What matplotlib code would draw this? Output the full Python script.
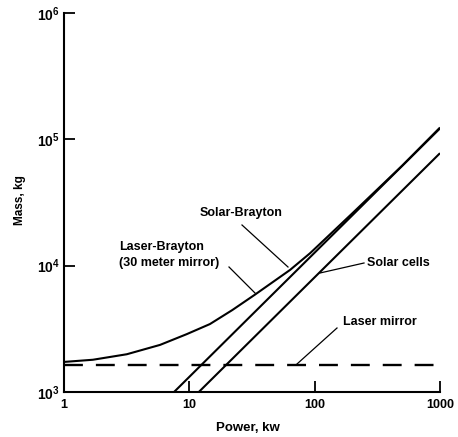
import matplotlib
matplotlib.use("Agg")
import matplotlib.pyplot as plt

plt.rcParams['font.family'] = ['Liberation Sans', 'DejaVu Sans']
plt.rcParams['font.weight'] = 'bold'
plt.rcParams['mathtext.fontset'] = 'custom'
plt.rcParams['mathtext.rm'] = 'Liberation Sans:bold'
plt.rcParams['mathtext.it'] = 'Liberation Sans:bold'
plt.rcParams['mathtext.bf'] = 'Liberation Sans:bold'

# Data (power in kW, mass in kg)
laser_brayton_power = [1, 1.7, 3.17, 5.84, 9.53, 14.6, 22, 33.4, 48, 63.6, 92, 200, 500, 1000]
laser_brayton_mass = [1730, 1800, 1990, 2360, 2870, 3450, 4450, 5900, 7600, 9250, 12560, 26000, 62000, 124000]

solar_brayton_power = [7.55, 1000]
solar_brayton_mass = [1000, 122000]

solar_cells_power = [11.9, 1000]
solar_cells_mass = [1000, 77700]

laser_mirror_power = [1, 1000]
laser_mirror_mass = [1634, 1634]

x_ticks = [1, 10, 100, 1000]
x_tick_labels = ['1', '10', '100', '1000']
y_ticks = [1e3, 1e4, 1e5, 1e6]
y_tick_labels = ['$10^3$', '$10^4$', '$10^5$', '$10^6$']

fig = plt.figure(figsize=(4.58, 4.37), dpi=100)
ax = fig.add_axes([64/458, 1-392/437, (440-64)/458, (392-13)/437])

lw = 1.5
ax.plot(laser_brayton_power, laser_brayton_mass, color='black', lw=lw,
        solid_capstyle='butt', solid_joinstyle='round')
ax.plot(solar_brayton_power, solar_brayton_mass, color='black', lw=lw, solid_capstyle='butt')
ax.plot(solar_cells_power, solar_cells_mass, color='black', lw=lw, solid_capstyle='butt')
ax.plot(laser_mirror_power, laser_mirror_mass, color='black', lw=lw + 0.2,
        dashes=(8, 5.5), dash_capstyle='butt')

ax.set_xscale('log')
ax.set_yscale('log')
ax.set_xlim(1, 1000)
ax.set_ylim(1e3, 1e6)
ax.set_xticks(x_ticks)
ax.set_xticklabels(x_tick_labels)
ax.set_yticks(y_ticks)
ax.set_yticklabels(y_tick_labels)
ax.minorticks_off()
ax.tick_params(axis='both', direction='in', length=8, width=1.3, pad=4)
ax.tick_params(axis='x', labelsize=9, pad=5)
ax.tick_params(axis='y', labelsize=10, pad=3)

for s in ['top', 'right']:
    ax.spines[s].set_visible(False)
for s in ['left', 'bottom']:
    ax.spines[s].set_linewidth(1.5)

ax.set_xlabel('Power, kw', fontsize=9.5, fontweight='bold')
ax.xaxis.set_label_coords((248-64)/376, -(422-392)/379)
ax.set_ylabel('Mass, kg', fontsize=8.5, fontweight='bold')
ax.yaxis.set_label_coords(-(64-26)/376, 1-(200-13)/379)

def px(x, y):
    # figure pixel coords (top-left origin) -> figure fraction
    return (x/458, 1-y/437)

txt_kw = dict(fontsize=9, fontweight='bold', transform=fig.transFigure)
fig.text(*px(200, 213), 'Solar-Brayton', ha='left', va='center', **txt_kw)
fig.text(*px(119, 247), 'Laser-Brayton', ha='left', va='center', **txt_kw)
fig.text(*px(119, 263), '(30 meter mirror)', ha='left', va='center', **txt_kw)
fig.text(*px(367, 263), 'Solar cells', ha='left', va='center', **txt_kw)
fig.text(*px(343, 322), 'Laser mirror', ha='left', va='center', **txt_kw)

def leader(x0, y0, x1, y1):
    a, b = px(x0, y0)
    c, d = px(x1, y1)
    fig.add_artist(plt.Line2D([a, c], [b, d], color='black', lw=0.9, transform=fig.transFigure))

leader(242, 225, 288, 267)
leader(229, 267, 255, 293)
leader(364, 263, 320, 273)
leader(337, 328, 297, 364)

fig.savefig('out.png', dpi=100)
